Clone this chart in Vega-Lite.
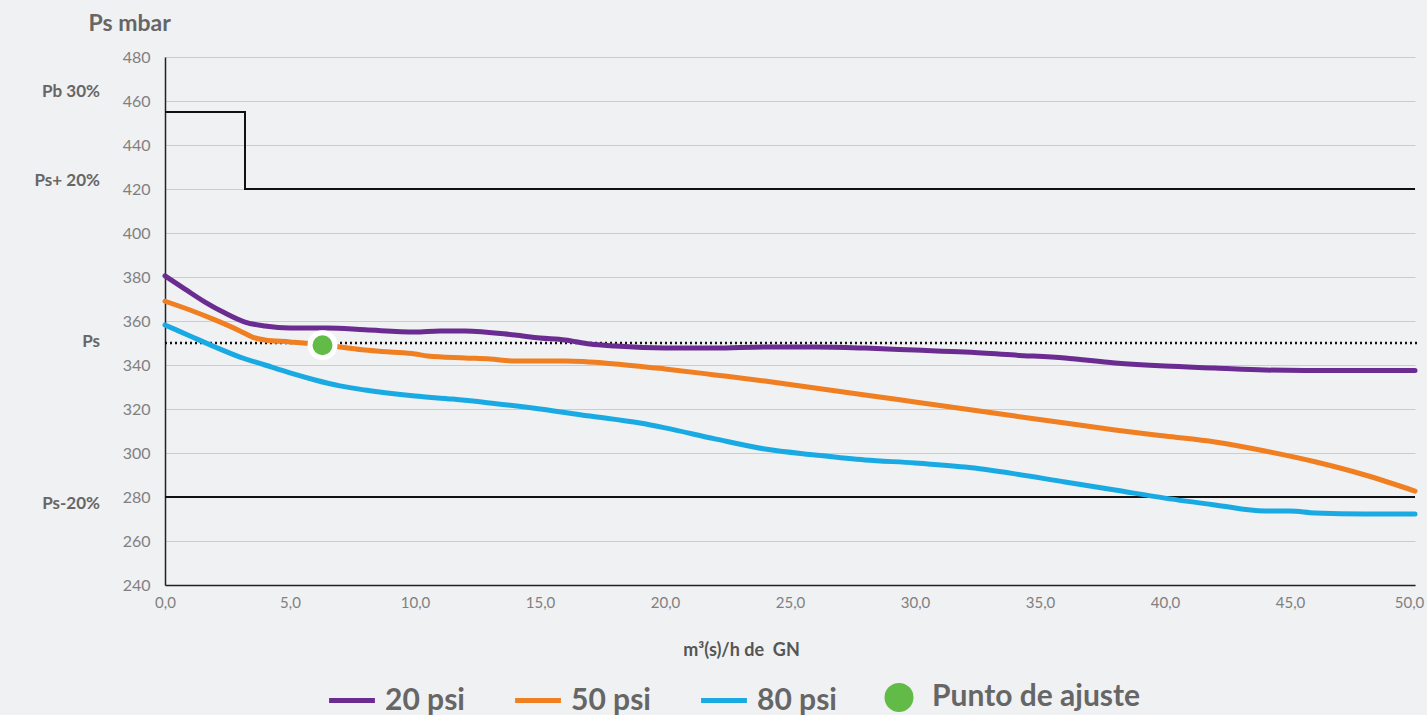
{
  "$schema": "https://vega.github.io/schema/vega-lite/v6.json",
  "width": 1250,
  "height": 528,
  "autosize": "none",
  "padding": {"left": 165, "top": 57, "right": 12, "bottom": 130},
  "background": "#f0f1f3",
  "config": {
    "view": {"stroke": null},
    "font": "Lato",
    "axis": {"labelFont": "Lato", "titleFont": "Lato"}
  },
  "datasets": {
    "curves": [
      {"x": 0, "v": 380.5, "serie": "20 psi"},
      {"x": 0.8, "v": 374.5, "serie": "20 psi"},
      {"x": 1.6, "v": 368.6, "serie": "20 psi"},
      {"x": 2.4, "v": 363.6, "serie": "20 psi"},
      {"x": 3.2, "v": 359.5, "serie": "20 psi"},
      {"x": 4, "v": 357.7, "serie": "20 psi"},
      {"x": 5, "v": 356.8, "serie": "20 psi"},
      {"x": 6.5, "v": 356.8, "serie": "20 psi"},
      {"x": 8, "v": 356, "serie": "20 psi"},
      {"x": 10, "v": 355, "serie": "20 psi"},
      {"x": 11, "v": 355.5, "serie": "20 psi"},
      {"x": 12, "v": 355.5, "serie": "20 psi"},
      {"x": 14, "v": 353.6, "serie": "20 psi"},
      {"x": 15, "v": 352.3, "serie": "20 psi"},
      {"x": 16, "v": 351.4, "serie": "20 psi"},
      {"x": 17, "v": 349.5, "serie": "20 psi"},
      {"x": 18, "v": 348.6, "serie": "20 psi"},
      {"x": 20, "v": 347.7, "serie": "20 psi"},
      {"x": 22, "v": 347.7, "serie": "20 psi"},
      {"x": 24, "v": 348.2, "serie": "20 psi"},
      {"x": 26, "v": 348.2, "serie": "20 psi"},
      {"x": 28, "v": 347.7, "serie": "20 psi"},
      {"x": 30, "v": 346.8, "serie": "20 psi"},
      {"x": 32, "v": 345.9, "serie": "20 psi"},
      {"x": 34, "v": 344.5, "serie": "20 psi"},
      {"x": 36, "v": 343.2, "serie": "20 psi"},
      {"x": 38, "v": 340.9, "serie": "20 psi"},
      {"x": 40, "v": 339.5, "serie": "20 psi"},
      {"x": 42, "v": 338.6, "serie": "20 psi"},
      {"x": 44, "v": 337.7, "serie": "20 psi"},
      {"x": 46, "v": 337.5, "serie": "20 psi"},
      {"x": 48, "v": 337.5, "serie": "20 psi"},
      {"x": 50, "v": 337.5, "serie": "20 psi"},
      {"x": 0, "v": 369, "serie": "50 psi"},
      {"x": 1, "v": 365, "serie": "50 psi"},
      {"x": 2, "v": 360.5, "serie": "50 psi"},
      {"x": 3, "v": 355.5, "serie": "50 psi"},
      {"x": 3.5, "v": 352.7, "serie": "50 psi"},
      {"x": 4, "v": 351.4, "serie": "50 psi"},
      {"x": 5, "v": 350.5, "serie": "50 psi"},
      {"x": 6, "v": 349.5, "serie": "50 psi"},
      {"x": 7, "v": 348.2, "serie": "50 psi"},
      {"x": 8, "v": 346.8, "serie": "50 psi"},
      {"x": 9, "v": 345.9, "serie": "50 psi"},
      {"x": 10, "v": 345, "serie": "50 psi"},
      {"x": 10.5, "v": 344.1, "serie": "50 psi"},
      {"x": 12, "v": 343.2, "serie": "50 psi"},
      {"x": 13, "v": 342.7, "serie": "50 psi"},
      {"x": 14, "v": 341.8, "serie": "50 psi"},
      {"x": 16, "v": 341.8, "serie": "50 psi"},
      {"x": 18, "v": 340.5, "serie": "50 psi"},
      {"x": 20, "v": 338.2, "serie": "50 psi"},
      {"x": 22, "v": 335.5, "serie": "50 psi"},
      {"x": 24, "v": 332.7, "serie": "50 psi"},
      {"x": 26, "v": 329.5, "serie": "50 psi"},
      {"x": 28, "v": 326.4, "serie": "50 psi"},
      {"x": 30, "v": 323.2, "serie": "50 psi"},
      {"x": 32, "v": 320, "serie": "50 psi"},
      {"x": 34, "v": 316.8, "serie": "50 psi"},
      {"x": 36, "v": 313.6, "serie": "50 psi"},
      {"x": 38, "v": 310.5, "serie": "50 psi"},
      {"x": 40, "v": 307.7, "serie": "50 psi"},
      {"x": 42, "v": 305, "serie": "50 psi"},
      {"x": 44, "v": 300.9, "serie": "50 psi"},
      {"x": 46, "v": 296, "serie": "50 psi"},
      {"x": 48, "v": 290, "serie": "50 psi"},
      {"x": 50, "v": 282.7, "serie": "50 psi"},
      {"x": 0, "v": 358.2, "serie": "80 psi"},
      {"x": 1, "v": 353.2, "serie": "80 psi"},
      {"x": 2, "v": 348.2, "serie": "80 psi"},
      {"x": 3, "v": 343.6, "serie": "80 psi"},
      {"x": 4, "v": 340, "serie": "80 psi"},
      {"x": 5, "v": 336.4, "serie": "80 psi"},
      {"x": 6, "v": 333.2, "serie": "80 psi"},
      {"x": 7, "v": 330.5, "serie": "80 psi"},
      {"x": 8, "v": 328.6, "serie": "80 psi"},
      {"x": 10, "v": 325.9, "serie": "80 psi"},
      {"x": 11.5, "v": 324.5, "serie": "80 psi"},
      {"x": 13, "v": 322.7, "serie": "80 psi"},
      {"x": 15, "v": 320, "serie": "80 psi"},
      {"x": 17, "v": 316.8, "serie": "80 psi"},
      {"x": 19, "v": 313.6, "serie": "80 psi"},
      {"x": 20, "v": 311.4, "serie": "80 psi"},
      {"x": 22, "v": 306.4, "serie": "80 psi"},
      {"x": 24, "v": 301.8, "serie": "80 psi"},
      {"x": 26, "v": 299.1, "serie": "80 psi"},
      {"x": 28, "v": 296.8, "serie": "80 psi"},
      {"x": 30, "v": 295.5, "serie": "80 psi"},
      {"x": 32, "v": 293.6, "serie": "80 psi"},
      {"x": 34, "v": 290.5, "serie": "80 psi"},
      {"x": 36, "v": 286.8, "serie": "80 psi"},
      {"x": 38, "v": 283.2, "serie": "80 psi"},
      {"x": 40, "v": 279.5, "serie": "80 psi"},
      {"x": 42, "v": 276.4, "serie": "80 psi"},
      {"x": 44, "v": 273.6, "serie": "80 psi"},
      {"x": 45, "v": 273.6, "serie": "80 psi"},
      {"x": 46, "v": 272.7, "serie": "80 psi"},
      {"x": 48, "v": 272.3, "serie": "80 psi"},
      {"x": 50, "v": 272.3, "serie": "80 psi"}
    ],
    "limit": [
      {"x": 0, "v": 455},
      {"x": 3.2, "v": 420},
      {"x": 50, "v": 420}
    ],
    "low": [
      {"x": 0, "v": 280},
      {"x": 50, "v": 280}
    ],
    "ps": [
      {"x": 0, "v": 350},
      {"x": 50.2, "v": 350}
    ],
    "ajuste": [
      {"x": 6.3, "v": 349}
    ],
    "labels": [
      {"label": "Pb 30%", "v": 464},
      {"label": "Ps+ 20%", "v": 423.5},
      {"label": "Ps", "v": 350.5},
      {"label": "Ps-20%", "v": 277}
    ]
  },
  "layer": [
    {
      "data": {"name": "limit"},
      "mark": {"type": "line", "interpolate": "step-after", "color": "#111111", "strokeWidth": 2},
      "encoding": {
        "x": {"field": "x", "type": "quantitative", "scale": {"domain": [0, 50], "nice": false},
          "axis": {
            "values": [0, 5, 10, 15, 20, 25, 30, 35, 40, 45, 50],
            "labelExpr": "replace(format(datum.value, '.1f'), '.', ',')",
            "labelFlush": false,
            "labelOffset": {"condition": {"test": "datum.value === 50", "value": -6}, "value": 0},
            "grid": false, "ticks": false,
            "domainColor": "#222222", "domainWidth": 1.5,
            "labelColor": "#808080", "labelFontSize": 15, "labelPadding": 10,
            "title": "m³(s)/h de\u00a0\u00a0GN", "titleFontSize": 18, "titleFontWeight": "bold",
            "titleColor": "#555555", "titlePadding": 31, "titleX": 576, "titleAlign": "center"
          }},
        "y": {"field": "v", "type": "quantitative", "scale": {"domain": [240, 480], "nice": false, "zero": false},
          "axis": {
            "values": [240, 260, 280, 300, 320, 340, 360, 380, 400, 420, 440, 460, 480],
            "grid": true, "gridColor": "#cccccc", "gridWidth": 1.2,
            "ticks": false,
            "domainColor": "#222222", "domainWidth": 1.5,
            "labelColor": "#808080", "labelFontSize": 16, "labelPadding": 15,
            "title": "Ps mbar", "titleAngle": 0, "titleAlign": "left", "titleBaseline": "middle",
            "titleX": -77, "titleY": -34, "titleFontSize": 23, "titleFontWeight": "bold",
            "titleColor": "#666666"
          }}
      }
    },
    {
      "data": {"name": "low"},
      "mark": {"type": "line", "color": "#111111", "strokeWidth": 2},
      "encoding": {
        "x": {"field": "x", "type": "quantitative"},
        "y": {"field": "v", "type": "quantitative"}
      }
    },
    {
      "data": {"name": "ps"},
      "mark": {"type": "line", "color": "#111111", "strokeWidth": 2.5, "strokeDash": [2, 3], "clip": false},
      "encoding": {
        "x": {"field": "x", "type": "quantitative"},
        "y": {"field": "v", "type": "quantitative"}
      }
    },
    {
      "data": {"name": "curves"},
      "mark": {"type": "line", "strokeWidth": 5, "strokeCap": "round", "interpolate": "monotone", "clip": false},
      "encoding": {
        "x": {"field": "x", "type": "quantitative"},
        "y": {"field": "v", "type": "quantitative"},
        "color": {
          "field": "serie", "type": "nominal",
          "scale": {"domain": ["20 psi", "50 psi", "80 psi", "Punto de ajuste"],
                    "range": ["#6a2c91", "#f07f22", "#1aaae3", "#62bb46"]},
          "legend": {
            "orient": "none", "legendX": 172, "legendY": 625,
            "direction": "horizontal", "title": null,
            "labelFont": "Lato", "labelFontSize": 30, "labelFontWeight": "bold", "labelColor": "#666666",
            "labelLimit": 400, "symbolSize": 2100,
            "labelOffset": 18, "columnPadding": 40, "symbolStrokeWidth": 5,
            "encode": {
              "symbols": {
                "update": {
                  "shape": {"signal": "datum.value === 'Punto de ajuste' ? 'circle' : 'stroke'"},
                  "size": {"signal": "datum.value === 'Punto de ajuste' ? 600 : 2100"},
                  "fill": {"signal": "datum.value === 'Punto de ajuste' ? '#62bb46' : 'transparent'"},
                  "stroke": {"signal": "datum.value === 'Punto de ajuste' ? '#ffffff' : scale('color', datum.value)"},
                  "strokeWidth": {"signal": "datum.value === 'Punto de ajuste' ? 4.5 : 5"}
                }
              }
            }
          }
        }
      }
    },
    {
      "data": {"name": "ajuste"},
      "mark": {"type": "point", "shape": "circle", "filled": true, "fill": "#62bb46", "stroke": "#ffffff", "strokeWidth": 5, "size": 625, "opacity": 1, "strokeOpacity": 1},
      "encoding": {
        "x": {"field": "x", "type": "quantitative"},
        "y": {"field": "v", "type": "quantitative"}
      }
    },
    {
      "data": {"name": "labels"},
      "mark": {"type": "text", "align": "right", "baseline": "middle", "font": "Lato", "fontSize": 17, "fontWeight": "bold", "color": "#666666"},
      "encoding": {
        "x": {"datum": -2.6, "type": "quantitative"},
        "y": {"field": "v", "type": "quantitative"},
        "text": {"field": "label"}
      }
    }
  ]
}
